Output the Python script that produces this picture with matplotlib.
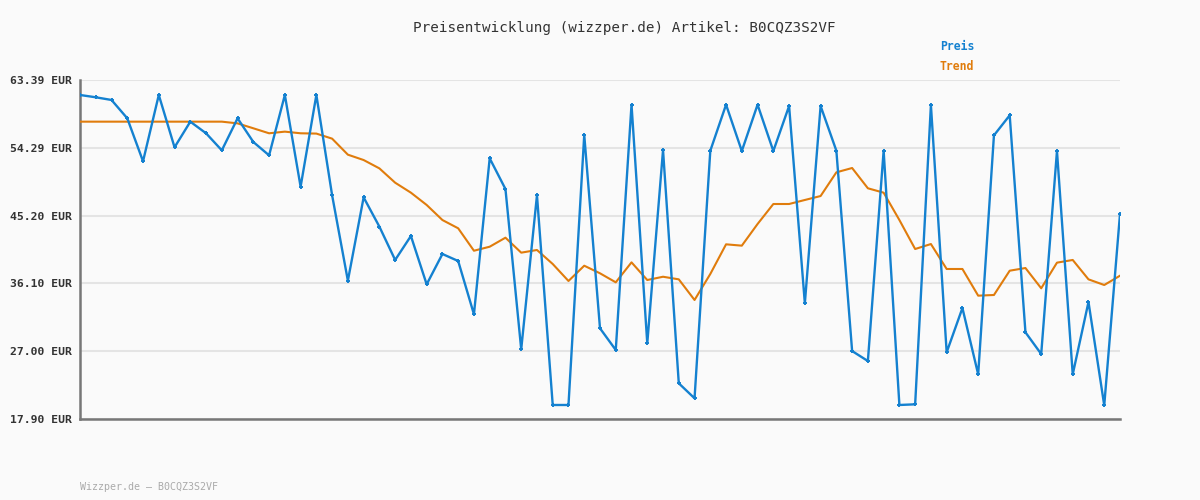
import matplotlib
matplotlib.use("Agg")
import matplotlib.pyplot as plt
import numpy as np

preis = [61.38, 61.07, 60.71, 58.25, 52.48, 61.38, 54.36, 57.80, 56.24, 53.95,
         58.25, 55.07, 53.28, 61.38, 49.07, 61.38, 47.92, 36.46, 47.64, 43.71,
         39.24, 42.46, 35.97, 40.04, 39.10, 31.95, 52.88, 48.76, 27.25, 47.92,
         19.78, 19.78, 56.01, 30.07, 27.16, 60.08, 28.06, 53.99, 22.69, 20.68,
         53.90, 60.08, 53.86, 60.08, 53.86, 59.90, 33.42, 59.90, 53.90, 27.02,
         25.68, 53.90, 19.78, 19.87, 60.03, 26.85, 32.79, 23.89, 55.96, 58.65,
         29.53, 26.62, 53.86, 23.89, 33.60, 19.73, 45.41]
trend = [57.80, 57.80, 57.80, 57.80, 57.80, 57.80, 57.80, 57.80, 57.80, 57.80,
         57.57, 56.91, 56.24, 56.46, 56.24, 56.20, 55.52, 53.37, 52.65, 51.53,
         49.61, 48.27, 46.62, 44.60, 43.49, 40.48, 41.02, 42.23, 40.22, 40.58,
         38.70, 36.42, 38.47, 37.45, 36.24, 38.92, 36.55, 36.99, 36.64, 33.87,
         37.36, 41.34, 41.16, 44.07, 46.75, 46.75, 47.29, 47.82, 51.00, 51.58,
         48.86, 48.27, 44.60, 40.71, 41.38, 38.03, 38.03, 34.45, 34.54, 37.80,
         38.16, 35.44, 38.88, 39.24, 36.64, 35.88, 37.13]
yticks = [17.90, 27.00, 36.10, 45.20, 54.29, 63.39]
ytick_labels = ["17.90 EUR", "27.00 EUR", "36.10 EUR", "45.20 EUR", "54.29 EUR", "63.39 EUR"]
title = "Preisentwicklung (wizzper.de) Artikel: B0CQZ3S2VF"
footer = "Wizzper.de \u2013 B0CQZ3S2VF"

BG = "#fafafa"
BLUE = "#1481d0"
ORANGE = "#e07c0c"
mono = ["DejaVu Sans Mono"]

fig = plt.figure(figsize=(12, 5), dpi=100, facecolor=BG)
ax = fig.add_axes([80/1200, 1-419/500, 1040/1200, 339/500], facecolor=BG)

x = np.arange(len(preis))
ax.plot(x, trend, color=ORANGE, lw=1.5, zorder=3)
ax.plot(x, preis, color=BLUE, lw=1.7, marker='+', markersize=3.5,
        markeredgewidth=1.4, zorder=4)

ax.set_xlim(0, len(preis) - 1)
ax.set_ylim(yticks[0], yticks[-1])
ax.set_yticks(yticks)
ax.set_yticklabels(ytick_labels, family=mono, fontsize=8.2,
                   fontweight='bold', color='#333333')
ax.set_xticks([])
ax.tick_params(axis='y', length=0, pad=6)
ax.grid(axis='y', color='#e4e4e4', lw=1.5, zorder=0)
for s in ['top', 'right']:
    ax.spines[s].set_visible(False)
for s in ['left', 'bottom']:
    ax.spines[s].set_color('#777777')
    ax.spines[s].set_linewidth(1.8)

fig.text(624/1200, 1-28/500, title, family=mono, fontsize=10.3,
         color='#333333', ha='center', va='center')
fig.text(940/1200, 1-47/500, "Preis", family=mono, fontsize=8.3,
         fontweight='bold', color=BLUE, ha='left', va='center')
fig.text(940/1200, 1-67/500, "Trend", family=mono, fontsize=8.3,
         fontweight='bold', color=ORANGE, ha='left', va='center')
fig.text(80/1200, 1-487/500, footer, family=mono, fontsize=7.2,
         color='#aaaaaa', ha='left', va='center')

fig.savefig("out.png", dpi=100, facecolor=BG)
